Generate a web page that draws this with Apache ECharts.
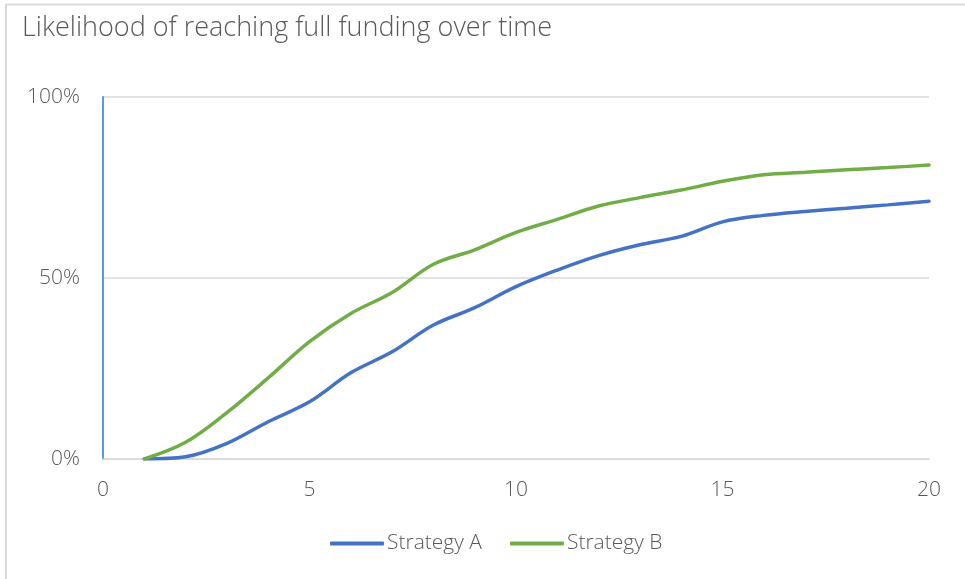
<!DOCTYPE html>
<html>
<head>
<meta charset="utf-8">
<script src="https://cdn.jsdelivr.net/npm/echarts@6/dist/echarts.min.js"></script>
<style>html,body{margin:0;padding:0;background:#fff}#c{width:965px;height:579px}</style>
</head>
<body>
<div id="c"></div>
<script>
const years = [1,2,3,4,5,6,7,8,9,10,11,12,13,14,15,16,17,18,19,20];
const strategyA = [0,0.6,4.3,10.3,15.8,23.8,29.6,37,41.8,47.6,52.2,56.2,59.2,61.5,65.5,67.3,68.4,69.3,70.2,71.2];
const strategyB = [0,4.6,12.8,22.4,32.4,40.2,46,53.8,57.8,62.6,66.2,69.9,72.2,74.3,76.7,78.5,79.2,79.9,80.5,81.2];
const seriesNames = ['Strategy A','Strategy B'];
const titleText = 'Likelihood of reaching full funding over time';

const FONT = '"Open Sans", "Noto Sans", sans-serif';
const chart = echarts.init(document.getElementById('c'));
chart.setOption({
  animation: false,
  title: {
    text: titleText, left: 17, top: 10,
    textStyle: {fontFamily: FONT, fontWeight: 300, fontSize: 27, color: '#595959'}
  },
  graphic: [{
    type: 'polyline', silent: true,
    shape: {points: [[6, 579], [6, 4.5], [965, 4.5]]},
    style: {stroke: '#d9d9d9', lineWidth: 2, fill: null}
  }],
  legend: {
    bottom: 20, left: 325, itemWidth: 54, itemHeight: 4, itemGap: 28,
    icon: 'roundRect',
    textStyle: {fontFamily: FONT, fontWeight: 300, fontSize: 21, color: '#595959', padding: [0,0,0,-2]},
    data: seriesNames
  },
  grid: {left: 103, right: 36, top: 97, bottom: 120},
  xAxis: {
    type: 'value', min: 0, max: 20, interval: 5,
    axisLine: {show: true, lineStyle: {color: '#d9d9d9', width: 1.5}},
    axisTick: {show: false},
    splitLine: {show: false},
    axisLabel: {fontFamily: FONT, fontWeight: 300, fontSize: 21, color: '#595959', margin: 21}
  },
  yAxis: {
    type: 'value', min: 0, max: 100, interval: 50,
    axisLine: {show: true, onZero: false, lineStyle: {color: '#5b9bd5', width: 2}},
    axisTick: {show: false},
    splitLine: {show: true, lineStyle: {color: '#d9d9d9', width: 1.5}},
    axisLabel: {fontFamily: FONT, fontWeight: 300, fontSize: 21, color: '#595959', margin: 23,
      formatter: v => v + '%'}
  },
  series: [
    {name: seriesNames[0], type: 'line', smooth: 0.35, showSymbol: false,
     lineStyle: {color: '#4472c4', width: 3.5, cap: 'round'}, itemStyle: {color: '#4472c4'},
     data: years.map((x, i) => [x, strategyA[i]])},
    {name: seriesNames[1], type: 'line', smooth: 0.35, showSymbol: false,
     lineStyle: {color: '#70ad47', width: 3.5, cap: 'round'}, itemStyle: {color: '#70ad47'},
     data: years.map((x, i) => [x, strategyB[i]])}
  ]
});
</script>
</body>
</html>
